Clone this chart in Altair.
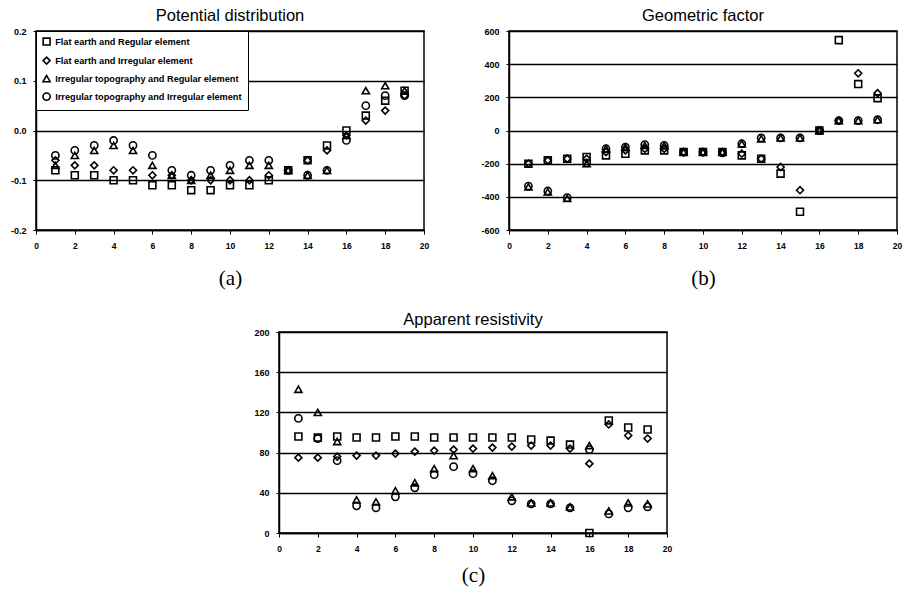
import altair as alt
import pandas as pd

# ---------------- data ----------------
xs = list(range(1, 20))
series = [
    "Flat earth and Regular element",
    "Flat earth and Irregular element",
    "Irregular topography and Regular element",
    "Irregular topography and Irregular element",
]
shapes = ["square", "diamond", "triangle-up", "circle"]
sizes = [48, 52, 42, 115]

# (a) Potential distribution
a_sq = [-0.08, -0.09, -0.09, -0.10, -0.10, -0.11, -0.11, -0.12, -0.12, -0.11, -0.11, -0.10, -0.08, -0.06, -0.03, 0.00, 0.03, 0.06, 0.08]
a_di = [-0.06, -0.07, -0.07, -0.08, -0.08, -0.09, -0.09, -0.10, -0.10, -0.10, -0.10, -0.09, -0.08, -0.06, -0.04, -0.01, 0.02, 0.04, 0.07]
a_tr = [-0.07, -0.05, -0.04, -0.03, -0.04, -0.07, -0.09, -0.10, -0.09, -0.08, -0.07, -0.07, -0.08, -0.09, -0.08, -0.01, 0.08, 0.09, 0.08]
a_ci = [-0.05, -0.04, -0.03, -0.02, -0.03, -0.05, -0.08, -0.09, -0.08, -0.07, -0.06, -0.06, -0.08, -0.09, -0.08, -0.02, 0.05, 0.07, 0.07]

# (b) Geometric factor
b_sq = [-200, -180, -170, -160, -150, -140, -120, -120, -130, -130, -130, -150, -170, -260, -490, 0, 545, 280, 195]
b_di = [-200, -180, -170, -170, -130, -120, -110, -110, -130, -130, -130, -140, -170, -220, -360, 0, 60, 345, 225]
b_tr = [-340, -370, -410, -200, -110, -100, -90, -90, -130, -130, -130, -80, -50, -45, -45, 0, 60, 60, 65]
b_ci = [-335, -365, -405, -195, -110, -100, -85, -90, -130, -130, -135, -80, -45, -45, -45, 0, 60, 60, 65]

# (c) Apparent resistivity
c_sq = [96, 95, 96, 95, 95, 96, 96, 95, 95, 95, 95, 95, 93, 92, 88, 0, 112, 105, 103]
c_di = [75, 75, 76, 77, 77, 79, 81, 82, 83, 84, 85, 86, 87, 87, 84, 69, 108, 97, 94]
c_tr = [143, 120, 91, 33, 31, 42, 50, 64, 77, 64, 57, 36, 30, 30, 26, 87, 22, 30, 29]
c_ci = [114, 94, 72, 27, 25, 36, 45, 58, 66, 59, 52, 32, 29, 29, 25, 83, 19, 25, 26]

x_ticks = list(range(0, 21, 2))
a_ticks = [-0.2, -0.1, 0.0, 0.1, 0.2]
b_ticks = [-600, -400, -200, 0, 200, 400, 600]
c_ticks = [0, 40, 80, 120, 160, 200]


def frame(cols):
    rows = []
    for name, vals in zip(series, cols):
        for x, v in zip(xs, vals):
            rows.append({"x": x, "v": v, "s": name})
    return pd.DataFrame(rows)


SANS = "Liberation Sans"
SERIF = "Liberation Serif"


def panel(df, title, caption, ydom, yticks, yfmt, legend, title_offset, cap_pad, height):
    label_expr = f"datum.value < 0 ? '-' + format(-datum.value, '{yfmt}') : format(datum.value, '{yfmt}')"
    return (
        alt.Chart(df)
        .mark_point(filled=False, color="black", strokeWidth=1.6, opacity=1)
        .encode(
            x=alt.X(
                "x:Q",
                scale=alt.Scale(domain=[0, 20], nice=False, zero=False),
                axis=alt.Axis(
                    values=x_ticks, grid=False, title=caption,
                    titleFont=SERIF, titleFontSize=21, titleFontWeight="normal",
                    titleColor="black", titlePadding=cap_pad,
                    labelFont=SANS, labelFontSize=8.5, labelFontWeight="bold",
                    labelColor="black", labelPadding=7, tickSize=4,
                    tickColor="black", domainColor="black", domainWidth=1.5,
                    labelFlush=False,
                ),
            ),
            y=alt.Y(
                "v:Q",
                scale=alt.Scale(domain=ydom, nice=False, zero=False),
                axis=alt.Axis(
                    values=yticks, grid=True, gridColor="black", gridWidth=1.3,
                    gridOpacity=1, title=None, labelExpr=label_expr,
                    labelFont=SANS, labelFontSize=9, labelFontWeight="bold",
                    labelColor="black", labelPadding=7, tickSize=3,
                    tickColor="black", domainColor="black", domainWidth=1.5,
                    labelFlush=False,
                ),
            ),
            shape=alt.Shape("s:N", scale=alt.Scale(domain=series, range=shapes), legend=legend),
            size=alt.Size("s:N", scale=alt.Scale(domain=series, range=sizes), legend=legend),
        )
        .properties(
            width=388, height=height,
            title=alt.TitleParams(title, font=SANS, fontSize=16.5, fontWeight="normal",
                                  color="black", offset=title_offset, anchor="middle", frame="group"),
        )
    )


legend_a = alt.Legend(
    orient="top-left", title=None, offset=0, padding=6,
    strokeColor="black", fillColor="white", cornerRadius=0,
    labelFont=SANS, labelFontSize=9.2, labelFontWeight="bold", labelColor="black",
    labelLimit=400, rowPadding=4, symbolStrokeColor="black",
    symbolFillColor="transparent", symbolStrokeWidth=1.6, labelOffset=4,
)

pa = panel(frame([a_sq, a_di, a_tr, a_ci]), "Potential distribution", "(a)",
           [-0.2, 0.2], a_ticks, ".1f", legend_a, 3, 18, 199)
pb = panel(frame([b_sq, b_di, b_tr, b_ci]), "Geometric factor", "(b)",
           [-600, 600], b_ticks, "d", None, 3, 18, 199)
pc = panel(frame([c_sq, c_di, c_tr, c_ci]), "Apparent resistivity", "(c)",
           [0, 200], c_ticks, "d", None, 0, 12, 201)

spacer = (
    alt.Chart(pd.DataFrame({"x": [0]}))
    .mark_point(opacity=0)
    .encode(x=alt.value(0), y=alt.value(0))
    .properties(width=216, height=199, view=alt.ViewBackground(stroke="transparent"))
)

top = alt.hconcat(pa, pb, spacing=50).resolve_scale(shape="independent", size="independent").resolve_legend(shape="independent", size="independent")
bottom = alt.hconcat(spacer, pc, spacing=0).resolve_scale(shape="independent", size="independent").resolve_legend(shape="independent", size="independent")

chart = (
    alt.vconcat(top, bottom, spacing=20)
    .resolve_scale(shape="independent", size="independent")
    .resolve_legend(shape="independent", size="independent")
    .properties(padding={"left": 9, "top": 6, "right": 0, "bottom": 0}, background="white")
    .configure_view(stroke="black", strokeWidth=1.5)
)

chart.save("out.html", embed_options={"renderer": "svg", "actions": False})
